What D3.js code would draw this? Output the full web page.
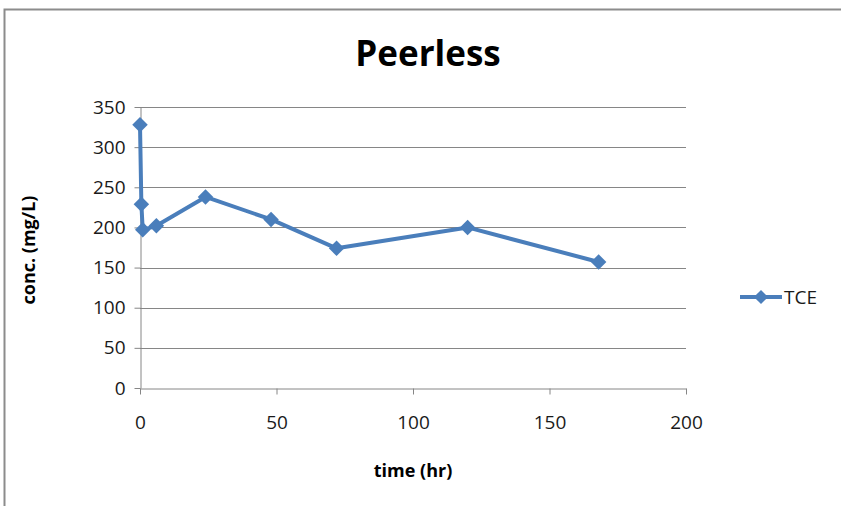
<!DOCTYPE html>
<html><head><meta charset="utf-8">
<script src="https://cdn.jsdelivr.net/npm/d3@7"></script>
<style>body{margin:0;background:#fff}svg{display:block}</style>
</head><body>
<svg id="c" width="841" height="506"></svg>
<script>
const times = [0, 0.5, 1, 6, 24, 48, 72, 120, 168];
const tce = [328, 229, 197, 202, 238, 210, 174, 200, 157];
const xTicks = [0, 50, 100, 150, 200];
const yTicks = [0, 50, 100, 150, 200, 250, 300, 350];
const seriesName = "TCE";
const titleText = "Peerless";
const xTitle = "time (hr)";
const yTitle = "conc. (mg/L)";

const svg = d3.select("#c");
const font = "'Open Sans', 'Liberation Sans', sans-serif";
svg.append("rect").attr("x",0).attr("y",0).attr("width",841).attr("height",506).attr("fill","#fff");
svg.append("rect").attr("x",4.5).attr("y",9.5).attr("width",850).attr("height",520)
  .attr("fill","none").attr("stroke","#8c8c8c").attr("stroke-width",2);

const x = d3.scaleLinear().domain([0,200]).range([140,686]);
const y = d3.scaleLinear().domain([0,350]).range([388,107]);
const grid = "#868686";

svg.append("g").selectAll("line").data(yTicks.filter(d=>d>0)).join("line")
  .attr("x1",x(0)).attr("x2",x(200)).attr("y1",d=>Math.round(y(d))+0.5).attr("y2",d=>Math.round(y(d))+0.5)
  .attr("stroke",grid).attr("stroke-width",1);

const xAxis = svg.append("g").attr("transform",`translate(0,${Math.round(y(0))+0.5})`)
  .call(d3.axisBottom(x).tickValues(xTicks).tickSize(6).tickSizeOuter(0).tickPadding(21));
const yAxis = svg.append("g").attr("transform",`translate(${Math.round(x(0))+0.5},0)`)
  .call(d3.axisLeft(y).tickValues(yTicks).tickSize(6).tickSizeOuter(0).tickPadding(9));
[xAxis,yAxis].forEach(a=>{
  a.select(".domain").attr("stroke",grid);
  a.selectAll(".tick line").attr("stroke",grid);
  a.selectAll(".tick text").attr("font-family",font).attr("font-size",19).attr("fill","#1a1a1a");
});

const blue = "#4a7ebb";
const line = d3.line().x((d,i)=>x(times[i])).y(d=>y(d));
svg.append("path").datum(tce).attr("d",line).attr("fill","none")
  .attr("stroke",blue).attr("stroke-width",4).attr("stroke-linejoin","round");
svg.append("g").selectAll("path").data(tce).join("path")
  .attr("d",d3.symbol().type(d3.symbolSquare).size(120))
  .attr("transform",(d,i)=>`translate(${x(times[i])},${y(d)}) rotate(45)`)
  .attr("fill",blue);

svg.append("text").attr("x",428).attr("y",66).attr("text-anchor","middle")
  .attr("font-family",font).attr("font-weight","bold").attr("font-size",35).attr("fill","#000").text(titleText);
svg.append("text").attr("x",413).attr("y",477).attr("text-anchor","middle")
  .attr("font-family",font).attr("font-weight","bold").attr("font-size",18).attr("fill","#000").text(xTitle);
svg.append("text").attr("transform","translate(35,250) rotate(-90)").attr("text-anchor","middle")
  .attr("font-family",font).attr("font-weight","bold").attr("font-size",18).attr("fill","#000").text(yTitle);

const lg = svg.append("g");
lg.append("line").attr("x1",740).attr("x2",782).attr("y1",297).attr("y2",297).attr("stroke",blue).attr("stroke-width",4);
lg.append("path").attr("d",d3.symbol().type(d3.symbolSquare).size(100)).attr("transform","translate(761,297) rotate(45)").attr("fill",blue);
lg.append("text").attr("x",784).attr("y",304).attr("font-family",font).attr("font-size",19).attr("fill","#1a1a1a").text(seriesName);
</script>
</body></html>
